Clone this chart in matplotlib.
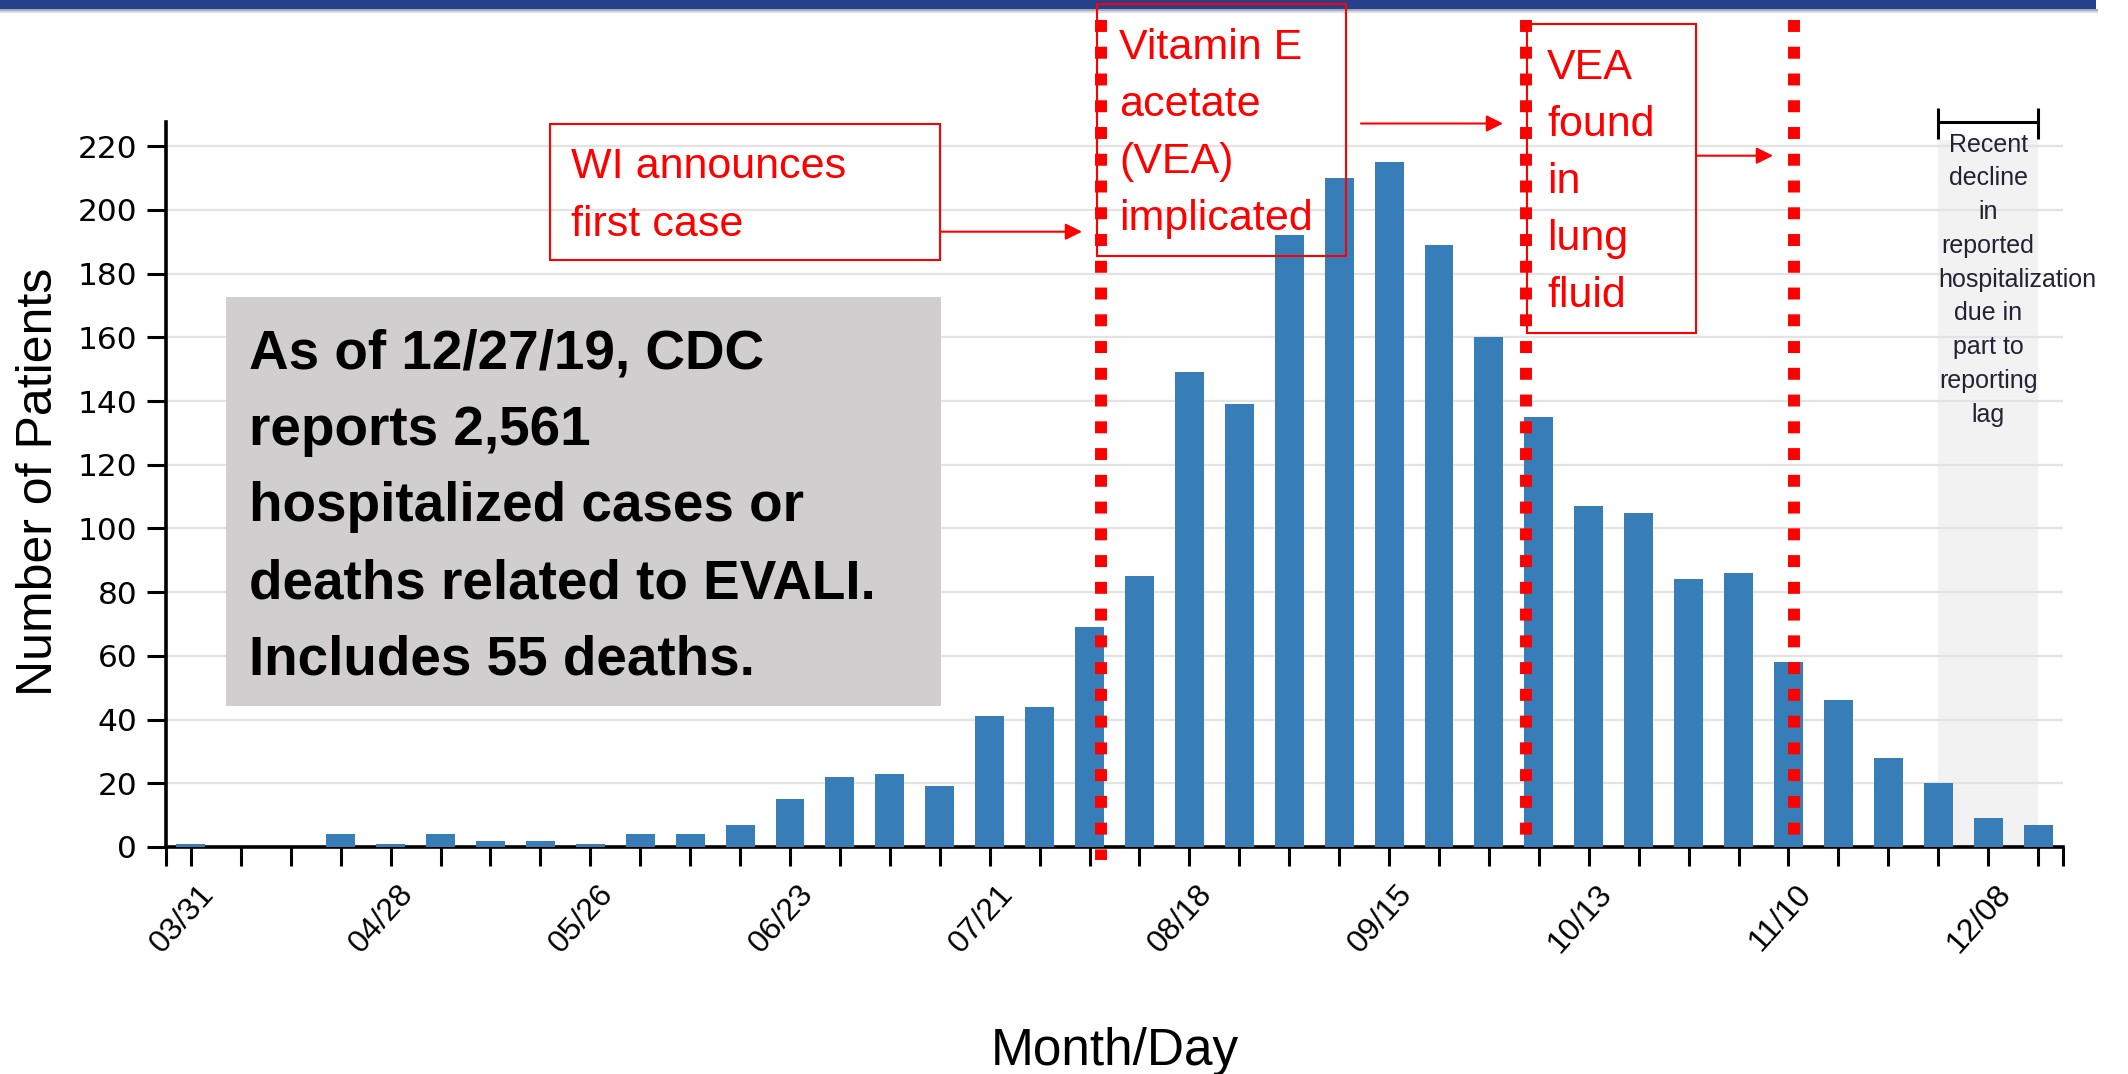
import matplotlib
matplotlib.use('Agg')
import matplotlib.pyplot as plt
from matplotlib.patches import Rectangle, FancyArrowPatch
from matplotlib.transforms import blended_transform_factory, ScaledTranslation

# ---------------- data ----------------
week_labels = ['03/31', '04/07', '04/14', '04/21', '04/28', '05/05', '05/12', '05/19',
               '05/26', '06/02', '06/09', '06/16', '06/23', '06/30', '07/07', '07/14',
               '07/21', '07/28', '08/04', '08/11', '08/18', '08/25', '09/01', '09/08',
               '09/15', '09/22', '09/29', '10/06', '10/13', '10/20', '10/27', '11/03',
               '11/10', '11/17', '11/24', '12/01', '12/08', '12/15']
patients = [1, 0, 0, 4, 1, 4, 2, 2,
            1, 4, 4, 7, 15, 22, 23, 19,
            41, 44, 69, 85, 149, 139, 192, 210,
            215, 189, 160, 135, 107, 105, 84, 86,
            58, 46, 28, 20, 9, 7]
y_ticks = [0, 20, 40, 60, 80, 100, 120, 140, 160, 180, 200, 220]
label_every = 4
event_x = [18.22, 26.75, 32.11]          # WI first case, VEA implicated, VEA in lung fluid
lag_range = [35, 37]                     # reporting-lag shaded weeks

info_lines = ['As of 12/27/19, CDC', 'reports 2,561', 'hospitalized cases or',
              'deaths related to EVALI.', 'Includes 55 deaths.']
wi_lines = ['WI announces', 'first case']
impl_lines = ['Vitamin E', 'acetate', '(VEA)', 'implicated']
found_lines = ['VEA', 'found', 'in', 'lung', 'fluid']
lag_lines = ['Recent', 'decline', 'in', 'reported', 'hospitalization', 'due in',
             'part to', 'reporting', 'lag']

# ---------------- figure ----------------
W, H = 2128, 1074
FONT = 'Liberation Sans'
plt.rcParams['font.family'] = [FONT, 'DejaVu Sans']
fig = plt.figure(figsize=(W / 100, H / 100), dpi=100)
fig.patch.set_facecolor('white')


def fx(x):
    return x / W


def fy(y):
    return 1 - y / H


AX_L, AX_R, AX_B, AX_T = 166, 2063, 847, 122.4
YMAX = 227.5
ax = fig.add_axes([fx(AX_L), fy(AX_B), (AX_R - AX_L) / W, (AX_B - AX_T) / H])

xs = list(range(len(patients)))
ax.bar(xs, patients, width=0.58, color='#377EB8', zorder=3)
ax.set_xlim(-0.5, len(patients) - 0.5)
ax.set_ylim(0, YMAX)

# shaded reporting-lag area
ax.add_patch(Rectangle((lag_range[0], 0), lag_range[1] - lag_range[0], 222,
                       facecolor='#F2F2F2', edgecolor='none', zorder=0.2, clip_on=False))
# bracket above it
bk = dict(color='black', lw=2.2, clip_on=False, zorder=4, solid_capstyle='butt')
ax.plot(lag_range, [227.6, 227.6], **bk)
ax.plot([lag_range[0]] * 2, [222.3, 232], **bk)
ax.plot([lag_range[1]] * 2, [222.3, 232], **bk)

# grid / spines / ticks
ax.set_yticks(y_ticks)
ax.set_axisbelow(True)
ax.yaxis.grid(True, color='#E3E3E3', lw=1.6)
for s in ['top', 'right']:
    ax.spines[s].set_visible(False)
for s in ['left', 'bottom']:
    ax.spines[s].set_linewidth(2.6)
    ax.spines[s].set_color('black')

ax.tick_params(axis='y', length=13.7, width=2.2, pad=7, labelsize=22.5)
for t in ax.get_yticklabels():
    t.set_fontfamily('DejaVu Sans')

ax.set_xticks(xs)
ax.set_xticklabels([lab if i % label_every == 0 else '' for i, lab in enumerate(week_labels)],
                   rotation=48, ha='right', va='top', rotation_mode='anchor', fontsize=23)
ax.set_xticks([-0.5, len(patients) - 0.5], minor=True)
ax.tick_params(axis='x', which='both', length=13.5, width=2.2, pad=9.5)
off = ScaledTranslation(7 / 100, 0, fig.dpi_scale_trans)
for t in ax.get_xticklabels():
    t.set_transform(t.get_transform() + off)

ax.set_xlabel('Month/Day', fontsize=37, va='baseline')
ax.xaxis.set_label_coords((1115 - AX_L) / (AX_R - AX_L), (AX_B - 1065) / (AX_B - AX_T))
ax.set_ylabel('Number of Patients', fontsize=36, va='baseline', rotation_mode='anchor')
ax.yaxis.set_label_coords((52 - AX_L) / (AX_R - AX_L), (AX_B - 482) / (AX_B - AX_T))

# red dotted event lines
trans = blended_transform_factory(ax.transData, ax.transAxes)
line_bottom_px = [860, 842, 842]
for ex, bot in zip(event_x, line_bottom_px):
    ax.plot([ex, ex], [(AX_B - 20) / (AX_B - AX_T), (AX_B - bot) / (AX_B - AX_T)],
            transform=trans, color='red', lw=8.6, linestyle=(0, (1.0, 1.24)),
            dash_capstyle='butt', clip_on=False, zorder=6)

# ---------------- figure-level decorations ----------------
fig.add_artist(Rectangle((0, fy(9)), 2096 / W, 9 / H, transform=fig.transFigure,
                         facecolor='#25418C', edgecolor='none', zorder=1))
fig.add_artist(Rectangle((0, fy(11)), 2098 / W, 2 / H, transform=fig.transFigure,
                         facecolor='#A4AABF', edgecolor='none', zorder=1))
fig.add_artist(Rectangle((0, fy(13)), 2098 / W, 2 / H, transform=fig.transFigure,
                         facecolor='#DADCE3', edgecolor='none', zorder=1))


def box(x0, y0, x1, y1, **kw):
    fig.add_artist(Rectangle((fx(x0), fy(y1)), (x1 - x0) / W, (y1 - y0) / H,
                             transform=fig.transFigure, zorder=2, **kw))


def arrow(x0, x1, y):
    fig.add_artist(FancyArrowPatch((fx(x0), fy(y)), (fx(x1), fy(y)), transform=fig.transFigure,
                                   arrowstyle='-|>,head_length=1.0,head_width=0.5',
                                   mutation_scale=10, color='red', lw=1.5,
                                   shrinkA=0, shrinkB=0, zorder=3))


def lines(x, baselines, texts, **kw):
    out = []
    for b, s in zip(baselines, texts):
        out.append(fig.text(fx(x), fy(b), s, va='baseline', zorder=4, **kw))
    return out


# info box
box(225.6, 297, 941, 705.7, facecolor='#D0CECF', edgecolor='none')
lines(249, [368 + 76.7 * i for i in range(5)], info_lines, fontsize=39.5,
      fontweight='bold', color='black', ha='left')

# red annotation boxes
red = dict(fill=False, edgecolor='red', lw=1.5)
box(550, 124.3, 940, 260, **red)
box(1097.3, 4, 1345.7, 256, **red)
box(1527, 24, 1696, 333, **red)
lines(571, [178.3, 236], wi_lines, fontsize=31, color='red', ha='left')
lines(1119, [59.3 + 56.9 * i for i in range(4)], impl_lines, fontsize=31, color='red', ha='left')
lines(1547, [79.3 + 57 * i for i in range(5)], found_lines, fontsize=31, color='red', ha='left')
arrow(940, 1082, 231.7)
arrow(1361, 1503, 123.5)
arrow(1696, 1773, 155.7)

# reporting lag text: centred over the shaded weeks; a line wider than the shaded
# area starts at its left edge instead
lag_left_px = ax.transData.transform((lag_range[0], 0))[0]
lag_right_px = ax.transData.transform((lag_range[1], 0))[0]
lag_texts = lines((lag_left_px + lag_right_px) / 2, [151.7 + 33.75 * i for i in range(9)],
                  lag_lines, fontsize=18, color='#222233', ha='center')
renderer = fig.canvas.get_renderer()
for t in lag_texts:
    w = t.get_window_extent(renderer).width
    if w > lag_right_px - lag_left_px:
        t.set_ha('left')
        t.set_x(fx(lag_left_px))

fig.savefig('out.png', dpi=100, facecolor='white')
